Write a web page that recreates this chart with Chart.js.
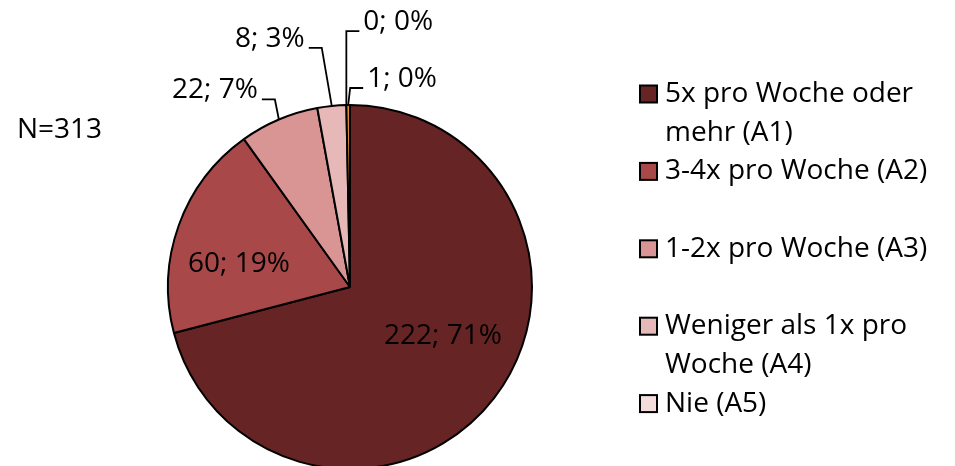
<!DOCTYPE html>
<html>
<head>
<meta charset="utf-8">
<script src="https://cdn.jsdelivr.net/npm/chart.js@4"></script>
<style>
  html, body { margin: 0; padding: 0; background: #fff; }
  #wrap { width: 955px; height: 466px; overflow: hidden; position: relative; }
</style>
</head>
<body>
<div id="wrap">
  <canvas id="torte" width="955" height="480"></canvas>
</div>
<script>
// Daten
const kategorien = ['5x pro Woche oder mehr (A1)', '3-4x pro Woche (A2)', '1-2x pro Woche (A3)', 'Weniger als 1x pro Woche (A4)', 'Nie (A5)', ''];
const werte = [222, 60, 22, 8, 0, 1];
const farben = ['#672424', '#A84848', '#D99494', '#E6B8B8', '#F2DCDC', '#E08A33'];
const legendeZeilen = [['5x pro Woche oder', 'mehr (A1)'], ['3-4x pro Woche (A2)'], ['1-2x pro Woche (A3)'], ['Weniger als 1x pro', 'Woche (A4)'], ['Nie (A5)']];
const stichprobe = 'N=313';

// Lage der Beschriftungen (innen: Versatz zur Mitte, aussen: Knick der Fuehrungslinie)
const beschriftung = [
    { innen: [93, 49] },
    { innen: [-111, -23] },
    { knick: [-4, -20], seite: -1 },
    { knick: [-10, -58], seite: -1 },
    { knick: [0, -74], seite: 1 },
    { knick: [2, -17], seite: 1 }
];

const schrift = '28px "Open Sans"';

const labelPlugin = {
    id: 'datenbeschriftung',
    afterDatasetsDraw(chart) {
        const ctx = chart.ctx;
        const meta = chart.getDatasetMeta(0);
        const summe = werte.reduce((a, b) => a + b, 0);
        ctx.save();
        ctx.font = schrift;
        ctx.fillStyle = '#000';
        ctx.strokeStyle = '#000';
        ctx.lineWidth = 1.8;
        meta.data.forEach((arc, i) => {
            const p = arc.getProps(['x', 'y', 'startAngle', 'endAngle', 'outerRadius'], true);
            const text = werte[i] + '; ' + Math.round(werte[i] / summe * 100) + '%';
            const spec = beschriftung[i];
            if (spec.innen) {
                ctx.textAlign = 'center';
                ctx.textBaseline = 'middle';
                ctx.fillText(text, p.x + spec.innen[0], p.y + spec.innen[1]);
                return;
            }
            const mitte = (p.startAngle + p.endAngle) / 2;
            const ax = p.x + Math.cos(mitte) * p.outerRadius;
            const ay = p.y + Math.sin(mitte) * p.outerRadius;
            const ex = ax + spec.knick[0];
            const ey = ay + spec.knick[1];
            const hx = ex + spec.seite * 13;
            ctx.beginPath();
            ctx.moveTo(ax, ay);
            ctx.lineTo(ex, ey);
            ctx.lineTo(hx, ey);
            ctx.stroke();
            ctx.textAlign = spec.seite < 0 ? 'right' : 'left';
            ctx.textBaseline = 'middle';
            ctx.fillText(text, hx + spec.seite * 4, ey - 9);
        });
        ctx.restore();
    }
};

const legendePlugin = {
    id: 'legende',
    afterDraw(chart) {
        const ctx = chart.ctx;
        const startY = 94;
        const zeile = 38.7;
        const zeilenIndex = [0, 2, 4, 6, 8];
        ctx.save();
        ctx.font = schrift;
        ctx.textAlign = 'left';
        ctx.textBaseline = 'middle';
        legendeZeilen.forEach((zeilen, i) => {
            const y = startY + zeilenIndex[i] * zeile;
            ctx.fillStyle = farben[i];
            ctx.fillRect(640, y - 8.5, 17, 17);
            ctx.strokeStyle = '#000';
            ctx.lineWidth = 2;
            ctx.strokeRect(640, y - 8.5, 17, 17);
            ctx.fillStyle = '#000';
            zeilen.forEach((t, j) => ctx.fillText(t, 665, y + j * zeile));
        });
        ctx.fillText(stichprobe, 17, 130);
        ctx.restore();
    }
};

new Chart(document.getElementById('torte').getContext('2d'), {
    type: 'pie',
    data: {
        labels: kategorien,
        datasets: [{
            data: werte,
            backgroundColor: farben,
            borderColor: '#000',
            borderWidth: 2
        }]
    },
    options: {
        responsive: false,
        animation: false,
        layout: {
            padding: { left: 167, right: 422, top: 104, bottom: 10 }
        },
        plugins: {
            legend: { display: false },
            tooltip: { enabled: false }
        }
    },
    plugins: [labelPlugin, legendePlugin]
});
</script>
</body>
</html>
